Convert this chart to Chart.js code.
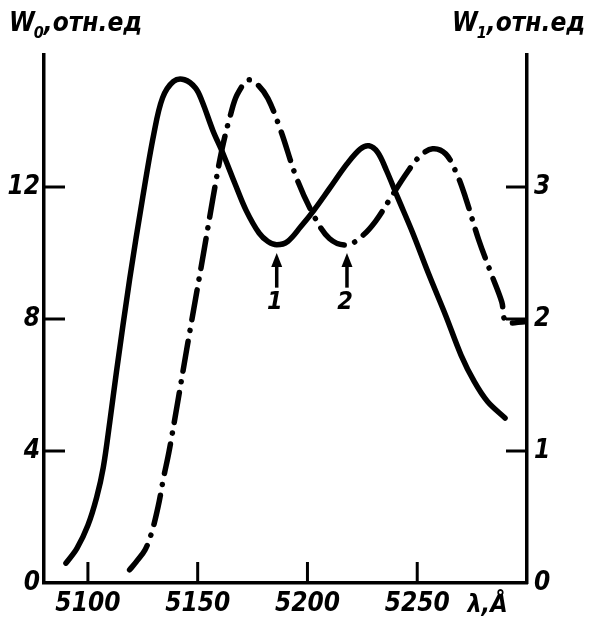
<!DOCTYPE html>
<html>
<head>
<meta charset="utf-8">
<script src="https://cdn.jsdelivr.net/npm/chart.js@4.4.1/dist/chart.umd.min.js"></script>
<style>
  body { margin: 0; background: #fff; }
  #wrap { width: 590px; height: 622px; }
</style>
</head>
<body>
<div id="wrap"><canvas id="chart" width="590" height="622"></canvas></div>
<script>
// curve 1 (solid), left axis W0
var lambda1 = [5090, 5095, 5100, 5104, 5107, 5110, 5113, 5119, 5125, 5130, 5134, 5139, 5144, 5149, 5152, 5157, 5161, 5167, 5172, 5178, 5182, 5186, 5191, 5197, 5203, 5210, 5218, 5224, 5228, 5232, 5236, 5241, 5248, 5255, 5263, 5270, 5276, 5282, 5290];
var w0 = [0.6, 1.05, 1.75, 2.6, 3.5, 4.9, 6.4, 9.2, 11.7, 13.6, 14.7, 15.2, 15.25, 15.0, 14.6, 13.7, 13.1, 12.1, 11.3, 10.6, 10.35, 10.25, 10.35, 10.8, 11.3, 11.95, 12.7, 13.15, 13.25, 13.05, 12.5, 11.7, 10.6, 9.4, 8.1, 6.9, 6.1, 5.5, 5.0];

// curve 2 (dash-dot), right axis W1
var lambda2 = [5119, 5122, 5126, 5129, 5132, 5134.5, 5137, 5141, 5145, 5149, 5153, 5157, 5161, 5165, 5168, 5173, 5177, 5182, 5188, 5195, 5203, 5210, 5218, 5225, 5231, 5238, 5245, 5251, 5257, 5263, 5268, 5272, 5278, 5284, 5288.5, 5290.5, 5299];
var w1 = [0.1, 0.16, 0.25, 0.38, 0.58, 0.8, 1.0, 1.38, 1.77, 2.15, 2.53, 2.92, 3.28, 3.55, 3.7, 3.81, 3.78, 3.67, 3.42, 3.07, 2.78, 2.61, 2.56, 2.63, 2.74, 2.92, 3.1, 3.23, 3.29, 3.25, 3.1, 2.92, 2.6, 2.33, 2.13, 1.98, 1.98];

var xTicks = [5100, 5150, 5200, 5250];
var w0Ticks = [0, 4, 8, 12];
var w1Ticks = [0, 1, 2, 3];

// arrows under the dips: [lambda, curve number]
var marks = [[5186, '1'], [5218, '2']];

var fam = "'Liberation Sans Narrow', 'DejaVu Sans Condensed', sans-serif";
var tickFont = { family: fam, size: 26, weight: 'bold', style: 'italic' };

function pts(xs, ys) {
  var out = [];
  for (var i = 0; i < xs.length; i++) out.push({ x: xs[i], y: ys[i] });
  return out;
}
function fixTicks(list) {
  return function (s) { s.ticks = list.map(function (v) { return { value: v }; }); };
}

var extras = {
  id: 'extras',
  afterDraw: function (chart) {
    var ctx = chart.ctx, a = chart.chartArea;
    var sx = chart.scales.x, sy = chart.scales.y, sy1 = chart.scales.y1;
    var len = 21;
    ctx.save();
    ctx.strokeStyle = '#000';
    ctx.fillStyle = '#000';
    ctx.lineWidth = 3;
    // inward tick marks
    xTicks.forEach(function (v) {
      var p = sx.getPixelForValue(v);
      ctx.beginPath(); ctx.moveTo(p, a.bottom); ctx.lineTo(p, a.bottom - len); ctx.stroke();
    });
    w0Ticks.forEach(function (v) {
      if (v === 0) return;
      var p = sy.getPixelForValue(v);
      ctx.beginPath(); ctx.moveTo(a.left, p); ctx.lineTo(a.left + len, p); ctx.stroke();
    });
    w1Ticks.forEach(function (v) {
      if (v === 0) return;
      var p = sy1.getPixelForValue(v);
      ctx.beginPath(); ctx.moveTo(a.right, p); ctx.lineTo(a.right - len, p); ctx.stroke();
    });

    // arrows and curve numbers
    marks.forEach(function (m) {
      var px = sx.getPixelForValue(m[0]);
      var tip = sy.getPixelForValue(10.0);
      var tail = sy.getPixelForValue(8.95);
      ctx.lineWidth = 3.5;
      ctx.beginPath(); ctx.moveTo(px, tail); ctx.lineTo(px, tip + 8); ctx.stroke();
      ctx.beginPath();
      ctx.moveTo(px, tip); ctx.lineTo(px - 5.5, tip + 14); ctx.lineTo(px + 5.5, tip + 14);
      ctx.closePath(); ctx.fill();
      ctx.font = 'italic bold 25px ' + fam;
      ctx.textAlign = 'center';
      ctx.textBaseline = 'middle';
      ctx.fillText(m[1], px - 2, sy.getPixelForValue(8.5));
    });

    // axis titles
    function title(x, sub) {
      ctx.textAlign = 'left';
      ctx.textBaseline = 'alphabetic';
      ctx.font = 'italic bold 26px ' + fam;
      ctx.fillText('W', x, 31);
      var w = ctx.measureText('W').width;
      ctx.font = 'italic bold 16px ' + fam;
      ctx.fillText(sub, x + w - 1, 38);
      var w2 = ctx.measureText(sub).width;
      ctx.font = 'italic bold 26px ' + fam;
      ctx.fillText(',отн.ед', x + w + w2 - 1, 31);
    }
    title(9, '0');
    title(452, '1');

    // x axis name
    ctx.font = 'italic bold 25px ' + fam;
    ctx.textAlign = 'center';
    ctx.textBaseline = 'middle';
    ctx.fillText('λ,Å', sx.getPixelForValue(5282), a.bottom + 22);
    ctx.restore();
  }
};

new Chart(document.getElementById('chart'), {
  type: 'line',
  data: {
    datasets: [
      {
        data: pts(lambda1, w0),
        yAxisID: 'y',
        borderColor: '#000',
        borderWidth: 5.5,
        borderCapStyle: 'round',
        borderJoinStyle: 'round',
        pointRadius: 0,
        tension: 0.35,
        fill: false
      },
      {
        data: pts(lambda2, w1),
        yAxisID: 'y1',
        borderColor: '#000',
        borderWidth: 5.5,
        borderDash: [30, 11, 0.1, 11],
        borderCapStyle: 'round',
        borderJoinStyle: 'round',
        pointRadius: 0,
        tension: 0.35,
        fill: false
      }
    ]
  },
  options: {
    responsive: false,
    animation: false,
    layout: { padding: { top: 55, left: 0, right: 0, bottom: 0 } },
    plugins: { legend: { display: false }, tooltip: { enabled: false } },
    scales: {
      x: {
        type: 'linear',
        min: 5080,
        max: 5300,
        afterBuildTicks: fixTicks(xTicks),
        afterFit: function (s) { s.height = 39; },
        grid: { drawOnChartArea: false, drawTicks: false },
        border: { display: true, width: 3.5, color: '#000' },
        ticks: { font: tickFont, color: '#000', padding: 6, maxRotation: 0, autoSkip: false,
                 callback: function (v) { return String(v); } }
      },
      y: {
        position: 'left',
        min: 0,
        max: 16,
        afterBuildTicks: fixTicks(w0Ticks),
        afterFit: function (s) { s.width = 44; },
        grid: { drawOnChartArea: false, drawTicks: false },
        border: { display: true, width: 3.5, color: '#000' },
        ticks: { font: tickFont, color: '#000', padding: 4 }
      },
      y1: {
        position: 'right',
        min: 0,
        max: 4,
        afterBuildTicks: fixTicks(w1Ticks),
        afterFit: function (s) { s.width = 63; },
        grid: { drawOnChartArea: false, drawTicks: false },
        border: { display: true, width: 3.5, color: '#000' },
        ticks: { font: tickFont, color: '#000', padding: 7 }
      }
    }
  },
  plugins: [extras]
});
</script>
</body>
</html>
